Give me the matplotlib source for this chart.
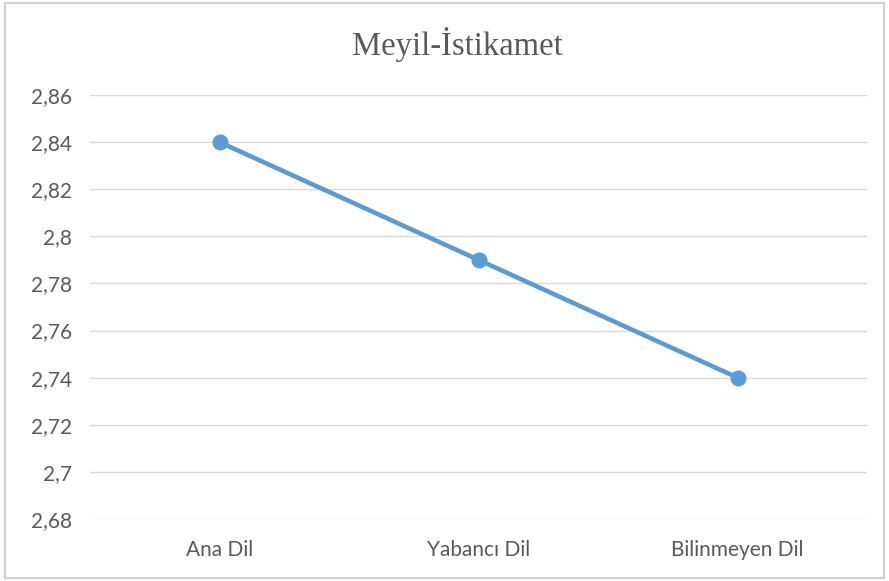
import matplotlib
matplotlib.use("Agg")
import matplotlib.pyplot as plt
from matplotlib.patches import Rectangle
from matplotlib.ticker import FuncFormatter

categories = ["Ana Dil", "Yabancı Dil", "Bilinmeyen Dil"]
values = [2.84, 2.79, 2.74]
yticks = [2.68, 2.70, 2.72, 2.74, 2.76, 2.78, 2.80, 2.82, 2.84, 2.86]
title = "Meyil-İstikamet"

fig = plt.figure(figsize=(8.89, 5.81), dpi=100)
W, H = 889, 581
ax = fig.add_axes([90 / W, 1 - 519 / H, (867 - 90) / W, (519 - 95) / H])

ax.plot(range(len(categories)), values, color="#5B9BD5", lw=3.3, marker="o",
        markersize=10.5, solid_capstyle="round", zorder=3)
ax.set_xlim(-0.5, len(categories) - 0.5)
ax.set_ylim(2.68, 2.86)
ax.set_yticks(yticks)

def fmt(v, pos):
    s = f"{v:.2f}".rstrip("0").rstrip(".")
    return s.replace(".", ",")

ax.yaxis.set_major_formatter(FuncFormatter(fmt))
ax.set_xticks(range(len(categories)))
ax.set_xticklabels(categories)
ax.grid(axis="y", color="#d9d9d9", lw=1)
ax.set_axisbelow(True)
for s in ax.spines.values():
    s.set_visible(False)
ax.tick_params(length=0, labelsize=15, labelcolor="#595959")
ax.tick_params(axis="y", pad=13)
ax.tick_params(axis="x", pad=15)
for lab in ax.get_xticklabels() + ax.get_yticklabels():
    lab.set_family("Lato")

fig.text(457 / W, 1 - 55 / H, title, ha="center", va="baseline", fontsize=23.5,
         family="Liberation Serif", color="#595959")

fig.patches.append(Rectangle((5 / W, 3 / H), (884 - 5) / W, (578 - 3) / H,
                             transform=fig.transFigure, fill=False,
                             edgecolor="#d0d0d0", lw=1.5))

fig.savefig("out.png", dpi=100)
